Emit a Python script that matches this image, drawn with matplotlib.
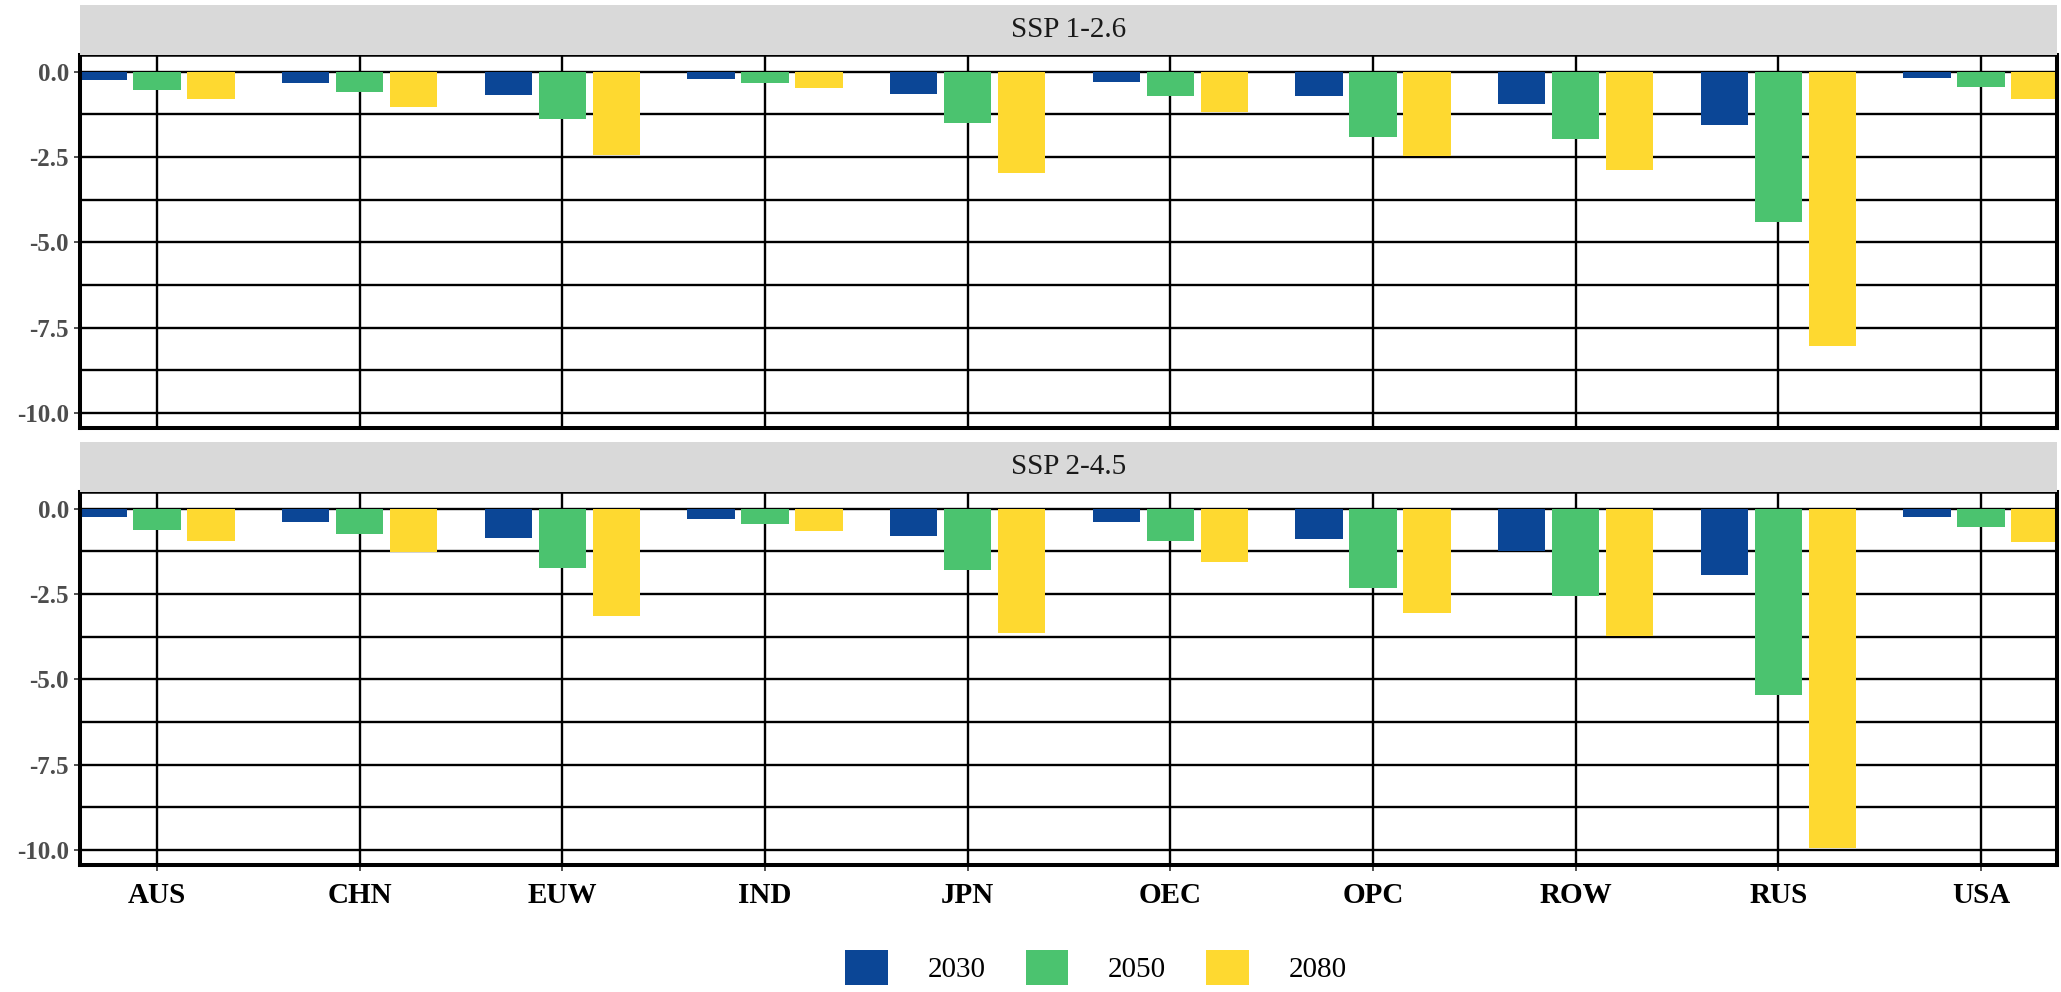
import matplotlib
matplotlib.use("Agg")
import numpy as np
import matplotlib.pyplot as plt
from matplotlib.patches import Patch, Rectangle

# figure size in pixels at dpi 100
W, H = 2061, 992
DPI = 100

regions = ["AUS", "CHN", "EUW", "IND", "JPN", "OEC", "OPC", "ROW", "RUS", "USA"]
years = ["2030", "2050", "2080"]
scenarios = ["SSP 1-2.6", "SSP 2-4.5"]

ssp126_2030 = [-0.24, -0.32, -0.67, -0.21, -0.64, -0.30, -0.71, -0.95, -1.56, -0.19]
ssp126_2050 = [-0.54, -0.59, -1.39, -0.33, -1.50, -0.71, -1.91, -1.97, -4.39, -0.45]
ssp126_2080 = [-0.80, -1.03, -2.44, -0.48, -2.96, -1.18, -2.46, -2.88, -8.03, -0.80]

ssp245_2030 = [-0.25, -0.40, -0.85, -0.29, -0.79, -0.38, -0.88, -1.23, -1.93, -0.23]
ssp245_2050 = [-0.63, -0.73, -1.73, -0.44, -1.81, -0.94, -2.31, -2.57, -5.46, -0.53]
ssp245_2080 = [-0.96, -1.28, -3.13, -0.64, -3.63, -1.55, -3.07, -3.74, -9.94, -0.97]

panel_data = [
    [ssp126_2030, ssp126_2050, ssp126_2080],
    [ssp245_2030, ssp245_2050, ssp245_2080],
]

colors = ["#0B4696", "#4BC36F", "#FED930"]

plt.rcParams["font.family"] = ["Liberation Serif", "DejaVu Serif"]

fig = plt.figure(figsize=(W / DPI, H / DPI), dpi=DPI)

# panel boxes in pixels: (left, top, right, bottom)
panel_px = [(80, 55, 2057, 428), (80, 492, 2057, 865)]
strip_h = 50

x = np.arange(1, len(regions) + 1)
dodge = 0.8 / 3
bar_w = 0.7 / 3

for i, (l, t, r, b) in enumerate(panel_px):
    ax = fig.add_axes([l / W, 1 - b / H, (r - l) / W, (b - t) / H])

    for k, (vals, c) in enumerate(zip(panel_data[i], colors)):
        ax.bar(x + (k - 1) * dodge, vals, width=bar_w, color=c, linewidth=0,
               label=years[k], zorder=2)

    ax.set_xlim(0.62, 10.375)
    ax.set_ylim(-10.44, 0.49)
    ax.set_yticks([0, -2.5, -5, -7.5, -10])
    ax.set_yticklabels(["0.0", "-2.5", "-5.0", "-7.5", "-10.0"])
    ax.set_yticks([-1.25, -3.75, -6.25, -8.75], minor=True)
    ax.set_xticks(x)

    ax.set_axisbelow(True)
    ax.grid(which="major", axis="both", color="black", linewidth=1.7)
    ax.grid(which="minor", axis="y", color="black", linewidth=1.7)

    ax.tick_params(axis="y", which="major", length=4, width=1.2, color="#333333",
                   labelsize=18, labelcolor="#4D4D4D", pad=4)
    ax.tick_params(axis="y", which="minor", length=0)
    for lab in ax.get_yticklabels():
        lab.set_fontweight("bold")

    if i == 1:
        ax.set_xticklabels(regions)
        ax.tick_params(axis="x", length=4, width=1.2, color="#333333",
                       labelsize=21, labelcolor="black", pad=8)
        for lab in ax.get_xticklabels():
            lab.set_fontweight("bold")
    else:
        ax.set_xticklabels([])
        ax.tick_params(axis="x", length=0)

    for side in ["left", "bottom", "right"]:
        ax.spines[side].set_linewidth(2.9)
        ax.spines[side].set_color("black")
    ax.spines["top"].set_linewidth(1.8)
    ax.spines["top"].set_color("black")

    # facet strip
    fig.patches.append(Rectangle((l / W, 1 - t / H), (r - l) / W, strip_h / H,
                                 transform=fig.transFigure, facecolor="#D9D9D9",
                                 edgecolor="none", zorder=0))
    fig.text((l + r) / 2 / W, 1 - (t - strip_h / 2) / H, scenarios[i],
             ha="center", va="center", fontsize=21, color="#1A1A1A")

handles = [Patch(facecolor=c, edgecolor="none") for c in colors]
fig.legend(handles, years, loc="upper center", bbox_to_anchor=(1096 / W, 1 - 950 / H),
           ncol=3, frameon=False, fontsize=21, borderpad=0, borderaxespad=0,
           handlelength=1.47, handleheight=1.47, handletextpad=1.36,
           columnspacing=1.37)

fig.savefig("out.png", dpi=DPI)
